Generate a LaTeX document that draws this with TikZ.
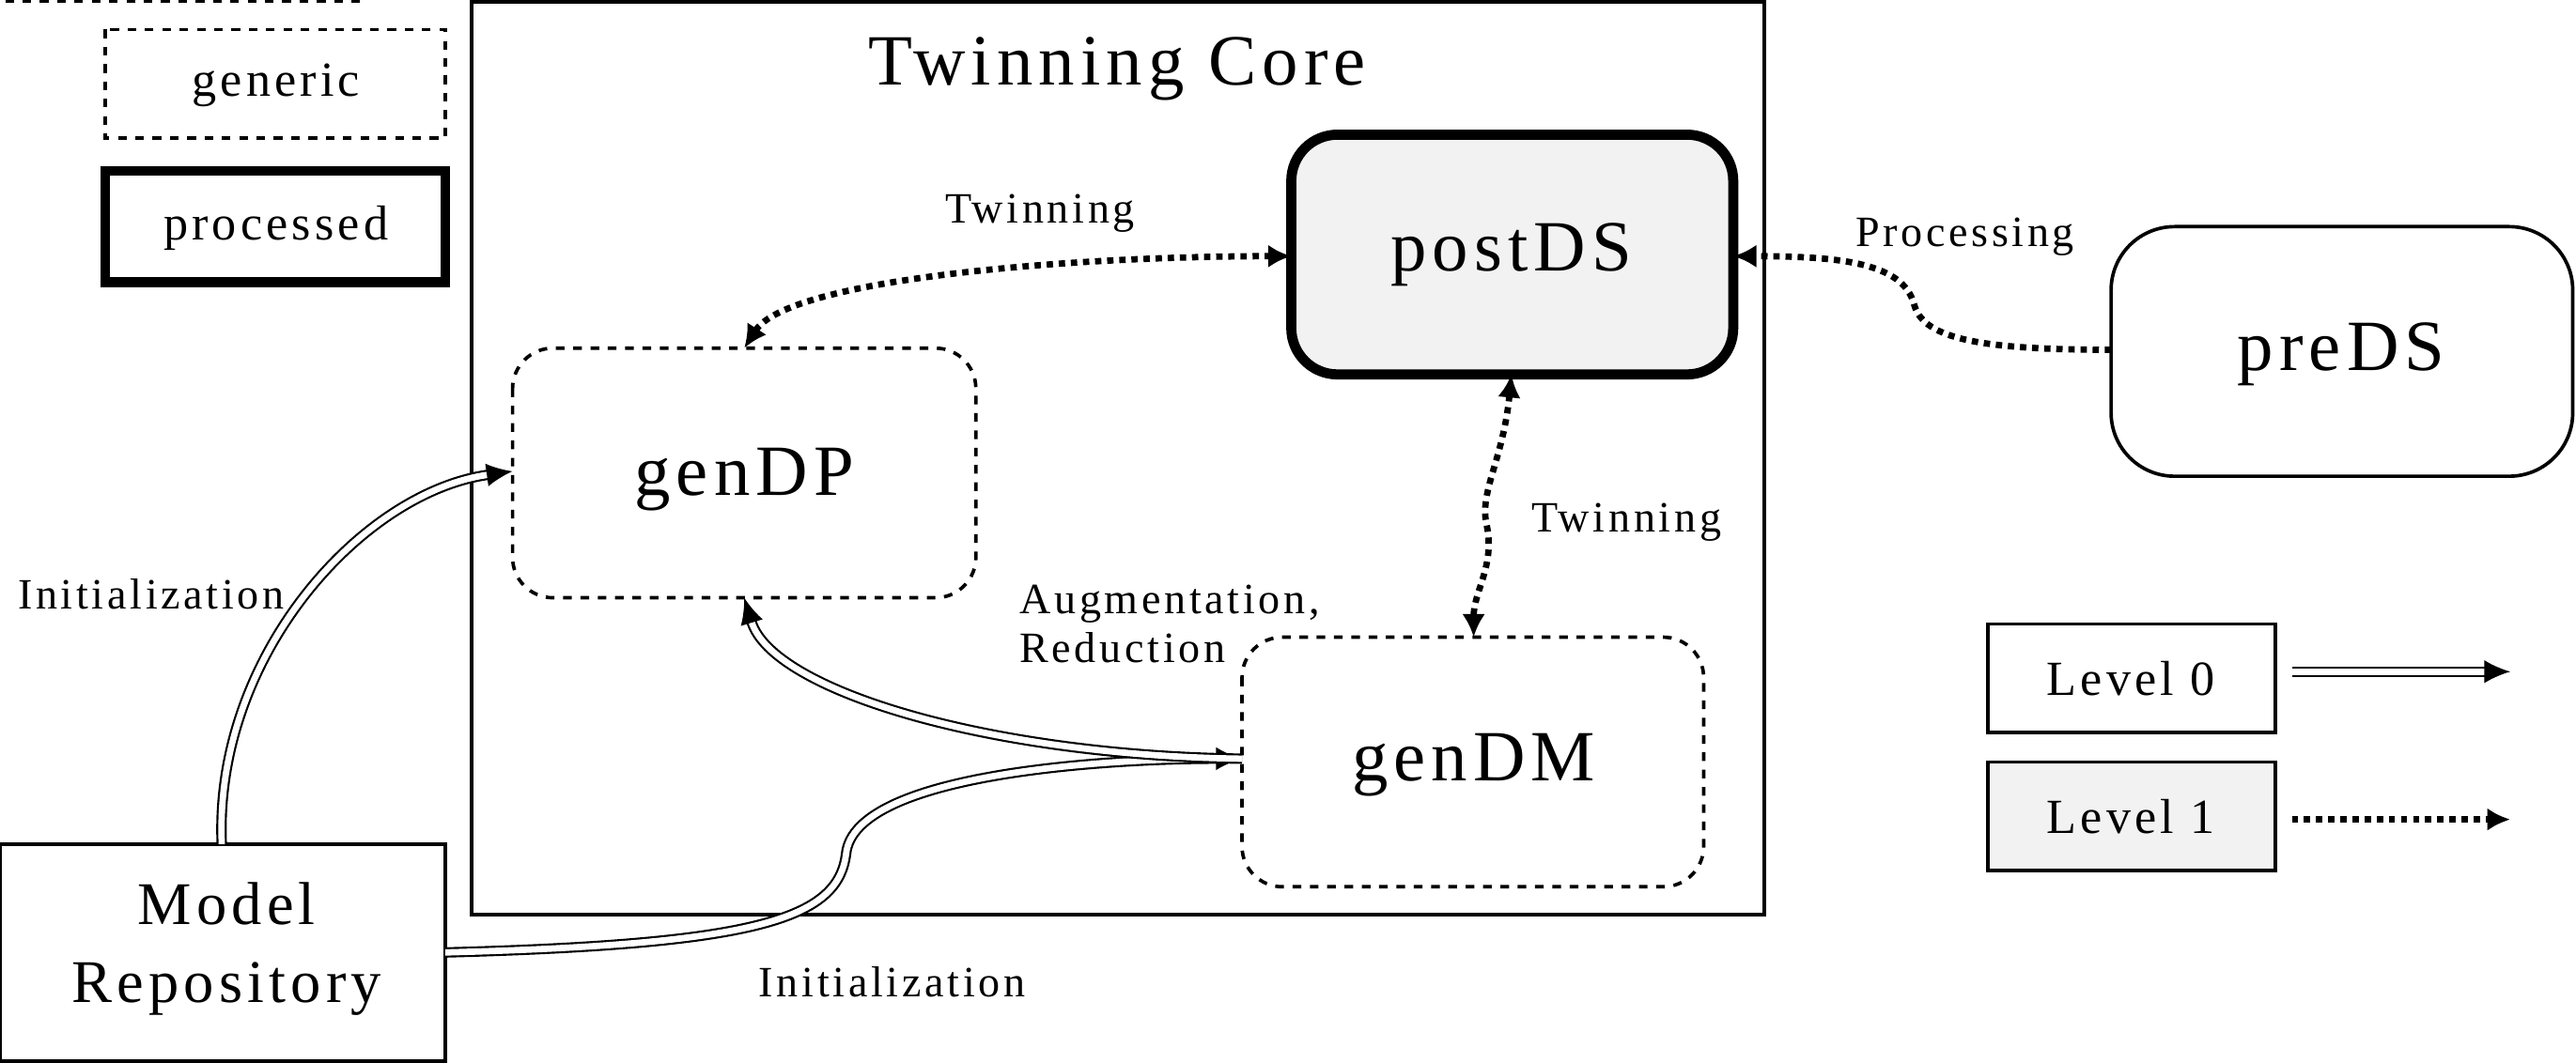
\documentclass[tikz,border=0pt]{standalone}
\usepackage{fontspec}
\setmainfont{Liberation Serif}[LetterSpace=8]
\usetikzlibrary{arrows.meta}
\definecolor{lg}{RGB}{242,242,242}
\begin{document}
\begin{tikzpicture}[x=0.02cm,y=-0.02cm,
 box/.style={draw,line width=1.2pt,inner sep=0pt},
 gen/.style={box,dashed,rounded corners=14pt},
 lab/.style={font=\fontsize{15}{17}\selectfont},
 lvl0/.style={double,double distance=2.2pt,line width=0.7pt,-{Latex[length=9pt,width=8pt]}},
 lvl1/.style={line width=2.2pt,dotted,-{Latex[length=8pt,width=8pt]}},
 lvl1b/.style={lvl1,{Latex[length=8pt,width=8pt]}-{Latex[length=8pt,width=8pt]}}]
\useasboundingbox (0,0) rectangle (1568,647);
\node[box,dashed,minimum width=207\pgflinewidth] (leg0) at (0,0) {};
\draw[box,dashed] (64,18) rectangle (271,84);
\node[lab,font=\fontsize{17}{19}\selectfont] (tg) at (168,52) {generic};
\draw[line width=3.5pt] (64,104) rectangle (271,172);
\node[font=\fontsize{17}{19}\selectfont] (tp) at (168,139) {processed};
\draw[line width=1.2pt] (287,1) rectangle (1074,557);
\node[font=\fontsize{25}{28}\selectfont] (title) at (680,42) {Twinning Core};
\draw[line width=3.5pt,fill=lg,rounded corners=16pt] (786,82) rectangle (1055,228);
\node[font=\fontsize{25}{28}\selectfont] (post) at (920,155) {postDS};
\coordinate (postL) at (786,156); \coordinate (postB) at (920,228); \coordinate (postR) at (1055,156);
\draw[gen] (312,212) rectangle (594,364);
\node[font=\fontsize{25}{28}\selectfont] (gdp) at (453,292) {genDP};
\coordinate (dpT) at (453,212); \coordinate (dpL) at (312,287); \coordinate (dpB) at (453,364);
\draw[gen] (756,388) rectangle (1037,540);
\node[font=\fontsize{25}{28}\selectfont] (gdm) at (897,466) {genDM};
\coordinate (dmT) at (897,388); \coordinate (dmL) at (756,462);
\draw[line width=1.2pt,rounded corners=22pt] (1285,138) rectangle (1566,290);
\node[font=\fontsize{25}{28}\selectfont] (pre) at (1425,216) {preDS};
\coordinate (preL) at (1285,213);
\draw[line width=1.2pt] (0,514) rectangle (271,646);
\node[font=\fontsize{21}{27}\selectfont,align=center] (mr) at (138,578) {Model\\Repository};
\coordinate (mrT) at (135,514); \coordinate (mrR) at (271,580);
\draw[line width=1.2pt] (1210,380) rectangle (1385,446);
\node[font=\fontsize{17}{19}\selectfont] (l0) at (1297,413) {Level 0};
\draw[line width=1.2pt,fill=lg] (1210,464) rectangle (1385,530);
\node[font=\fontsize{17}{19}\selectfont] (l1) at (1297,497) {Level 1};
\coordinate (a0s) at (1395,409); \coordinate (a0e) at (1528,409);
\coordinate (a1s) at (1395,499); \coordinate (a1e) at (1528,499);
\draw[lvl0] (a0s) -- (a0e);
\draw[lvl1] (a1s) -- (a1e);
% connectors
\draw[lvl1b] (dpT) .. controls (480,170) and (650,156) .. (postL);
\node[lab] (t1) at (633,130) {Twinning};
\draw[lvl1b] (postB) .. controls (915,280) and (900,300) .. (905,320) .. controls (910,345) and (897,360) .. (dmT);
\node[lab] (t2) at (990,318) {Twinning};
\draw[lvl1] (preL) .. controls (1200,213) and (1170,205) .. (1165,185) .. controls (1158,160) and (1120,156) .. (postR);
\node[lab] (pr) at (1196,144) {Processing};
\draw[lvl0] (mrT) .. controls (130,400) and (220,300) .. (dpL);
\node[lab] (i1) at (92,362) {Initialization};
\draw[lvl0] (mrR) .. controls (460,575) and (510,560) .. (515,520) .. controls (520,470) and (680,462) .. (dmL);
\node[lab] (i2) at (543,598) {Initialization};
\draw[lvl0] (dmL) .. controls (600,460) and (470,420) .. (dpB);
\node[lab,align=left] (ar) at (712,380) {Augmentation,\\Reduction};
\end{tikzpicture}
\end{document}
